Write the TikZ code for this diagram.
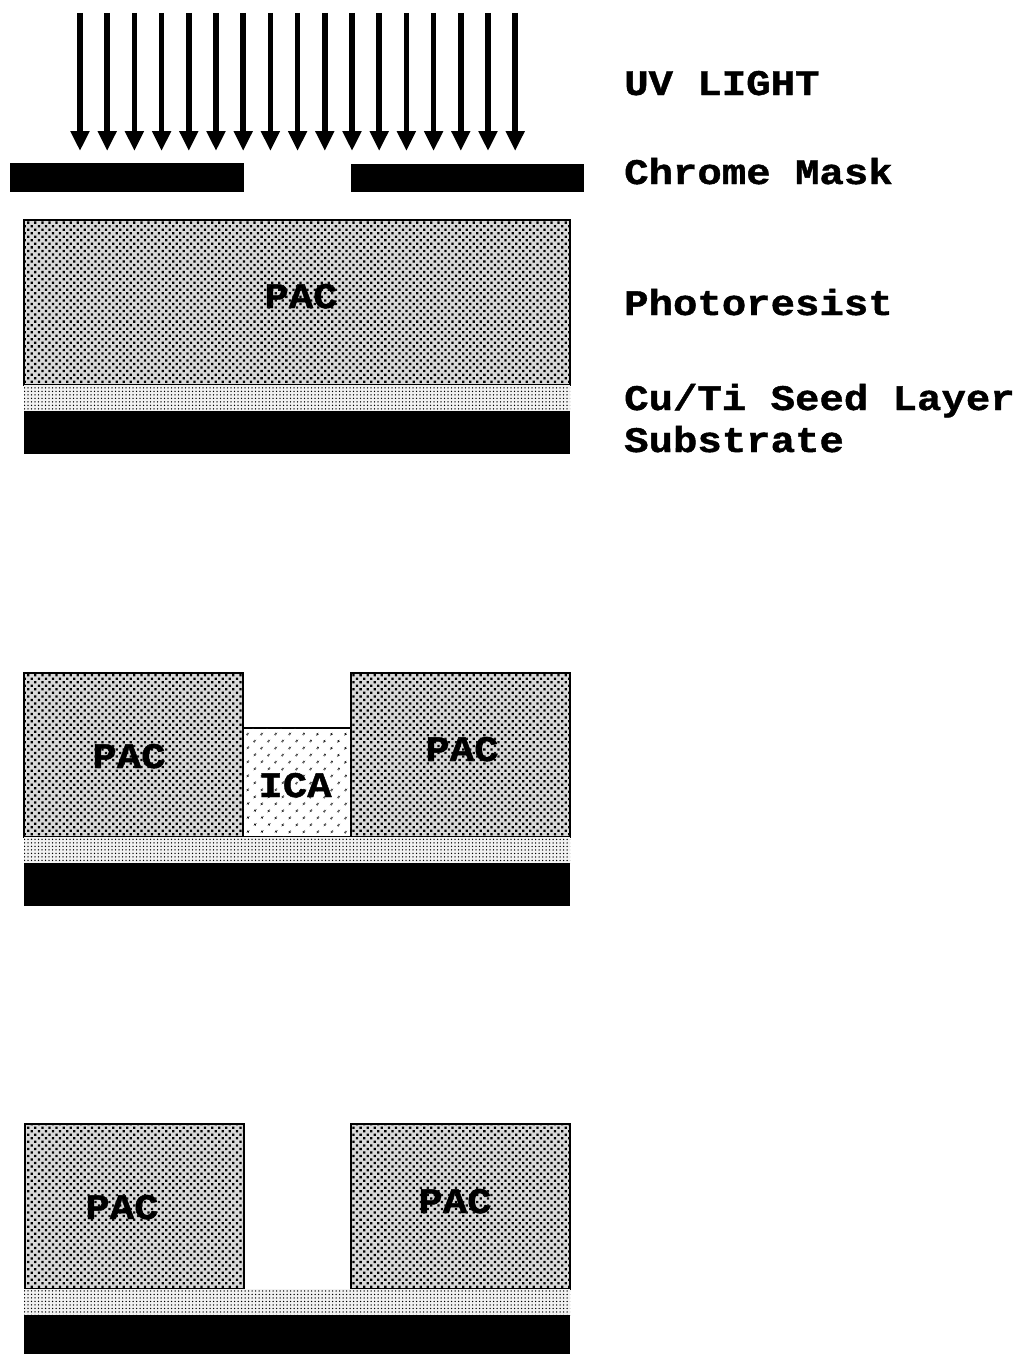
\documentclass[tikz,border=0pt]{standalone}
\usepackage{fontspec}
\setmainfont{Liberation Mono}[FakeStretch=1.13,BoldFeatures={FakeBold=1.2}]
\usetikzlibrary{patterns.meta,arrows.meta}
\definecolor{pacgray}{gray}{0.85}
\definecolor{seedgray}{gray}{0.95}
\tikzset{
  x=1pt,y=-1pt,
  lbl/.style={anchor=base west,inner sep=0,font=\fontsize{36}{42}\selectfont\bfseries},
  tag/.style={anchor=base,inner sep=0,font=\fontsize{36}{42}\selectfont\bfseries},
  pac/.style={draw=black,line width=2pt,fill=pacgray,
    postaction={pattern={Dots[distance=5pt,radius=1.6pt,angle=45]},pattern color=black}},
  ica/.style={draw=black,line width=2pt,fill=white,
    postaction={pattern={Dots[distance=10.5pt,radius=1.4pt,angle=45]},pattern color=black}},
  seed/.style={fill=seedgray,
    postaction={pattern={Dots[distance=3.5pt,radius=0.75pt,angle=0]},pattern color=black}},
  solid/.style={fill=black},
  uv/.style={line width=5.5pt,-{Triangle[length=20pt,width=18pt]}},
}
\begin{document}
\begin{tikzpicture}
\useasboundingbox (0,0) rectangle (1023,1354);
% UV arrows
\foreach \i in {0,...,16}{
  \pgfmathsetmacro{\xx}{80+27.2*\i}
  \coordinate (a\i) at (\xx,13);
  \coordinate (b\i) at (\xx,151);
  \draw[uv] (a\i) -- (b\i);
}
% mask
\fill[solid] (10,163) rectangle (244,192);
\fill[solid] (351,164) rectangle (584,192);
% panel 1
\path[pac] (24,220) rectangle (570,385);
\path[seed] (24,385) rectangle (570,411);
\fill[solid] (24,411) rectangle (570,454);
\node[tag] (pac1) at (301,308) {PAC};
% panel 2
\path[pac] (24,673) rectangle (243,837);
\path[pac] (351,673) rectangle (570,837);
\path[ica] (243,728) rectangle (351,837);
\path[seed] (24,837) rectangle (570,863);
\fill[solid] (24,863) rectangle (570,906);
\node[tag] (pac2) at (129,768) {PAC};
\node[tag] (pac3) at (462,761) {PAC};
\node[tag] (ica) at (295,797) {ICA};
% panel 3
\path[pac] (25,1124) rectangle (244,1289);
\path[pac] (351,1124) rectangle (570,1289);
\path[seed] (24,1289) rectangle (570,1315);
\fill[solid] (24,1315) rectangle (570,1354);
\node[tag] (pac4) at (122,1219) {PAC};
\node[tag] (pac5) at (455,1213) {PAC};
% labels
\node[lbl] (l1) at (624,95) {UV LIGHT};
\node[lbl] (l2) at (624,184) {Chrome Mask};
\node[lbl] (l3) at (624,315) {Photoresist};
\node[lbl] (l4) at (624,410) {Cu/Ti Seed Layer};
\node[lbl] (l5) at (624,452) {Substrate};
\end{tikzpicture}
\end{document}
